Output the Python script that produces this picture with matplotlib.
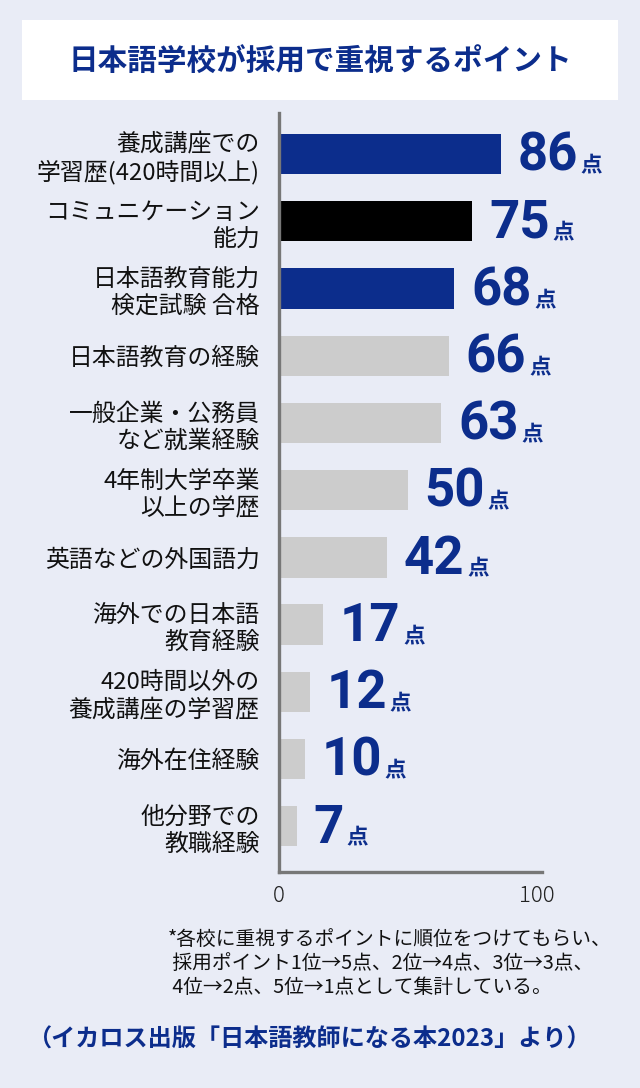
import matplotlib
matplotlib.use("Agg")
import matplotlib.pyplot as plt
from matplotlib.patches import Rectangle

plt.rcParams["font.family"] = ["Noto Sans CJK JP", "DejaVu Sans"]

categories = [
    "養成講座での\n学習歴(420時間以上)",
    "コミュニケーション\n能力",
    "日本語教育能力\n検定試験 合格",
    "日本語教育の経験",
    "一般企業・公務員\nなど就業経験",
    "4年制大学卒業\n以上の学歴",
    "英語などの外国語力",
    "海外での日本語\n教育経験",
    "420時間以外の\n養成講座の学習歴",
    "海外在住経験",
    "他分野での\n教職経験",
]
scores = [86, 75, 68, 66, 63, 50, 42, 17, 12, 10, 7]
highlight = ["navy", "black", "navy", "gray", "gray", "gray", "gray", "gray", "gray", "gray", "gray"]

title = "日本語学校が採用で重視するポイント"
note = ("*各校に重視するポイントに順位をつけてもらい、\n"
        " 採用ポイント1位→5点、2位→4点、3位→3点、\n"
        " 4位→2点、5位→1点として集計している。")
source = "（イカロス出版「日本語教師になる本2023」より）"

BG = "#E9ECF6"
NAVY = "#0C2D8C"
palette = {"navy": NAVY, "black": "#000000", "gray": "#CCCCCC"}

fig = plt.figure(figsize=(6.4, 10.88), dpi=100)
fig.patch.set_facecolor(BG)

# title box
fig.patches.append(Rectangle((22 / 640, 1 - 100 / 1088), 596 / 640, 80 / 1088,
                             transform=fig.transFigure, facecolor="white",
                             edgecolor="none", zorder=0))
fig.text(0.5, 1 - 62 / 1088, title, ha="center", va="center",
         fontsize=21.3, fontweight="bold", color=NAVY)

ax = fig.add_axes([279 / 640, 1 - 872 / 1088, 263 / 640, 759 / 1088])
ax.set_facecolor(BG)
y = list(range(len(categories)))
ax.barh(y, scores, height=0.6, color=[palette[h] for h in highlight], zorder=2)
ax.set_xlim(0, 102)
ax.set_ylim(10.68, -0.61)

for s in ["top", "right"]:
    ax.spines[s].set_visible(False)
for s in ["left", "bottom"]:
    ax.spines[s].set_color("#777777")
    ax.spines[s].set_linewidth(2.4)

ax.set_yticks(y)
ax.set_yticklabels(categories, fontsize=17.2, color="#111111", linespacing=1.22)
ax.tick_params(axis="y", length=0, pad=14)
ax.set_xticks([0, 100])
ax.set_xticklabels(["0", "100"], fontsize=16, color="#222222", fontweight="light")
ax.tick_params(axis="x", length=0, pad=9)

for i, v in enumerate(scores):
    t = ax.annotate(str(v), xy=(v, i), xytext=(12, -1.5), textcoords="offset points",
                    ha="left", va="center", fontsize=38, fontweight="bold",
                    color=NAVY, family=["Roboto", "DejaVu Sans"])
    ax.annotate("点", xy=(1, 0.12), xycoords=t, xytext=(2, 0),
                textcoords="offset points", ha="left", va="bottom",
                fontsize=15.5, fontweight="bold", color=NAVY)

fig.text(168 / 640, 1 - 929 / 1088, note, ha="left", va="top",
         fontsize=14.2, color="#111111", linespacing=1.18)
fig.text(310 / 640, 1 - 1040 / 1088, source, ha="center", va="center",
         fontsize=17.4, fontweight="bold", color=NAVY)

fig.savefig("out.png", dpi=100, facecolor=BG)
